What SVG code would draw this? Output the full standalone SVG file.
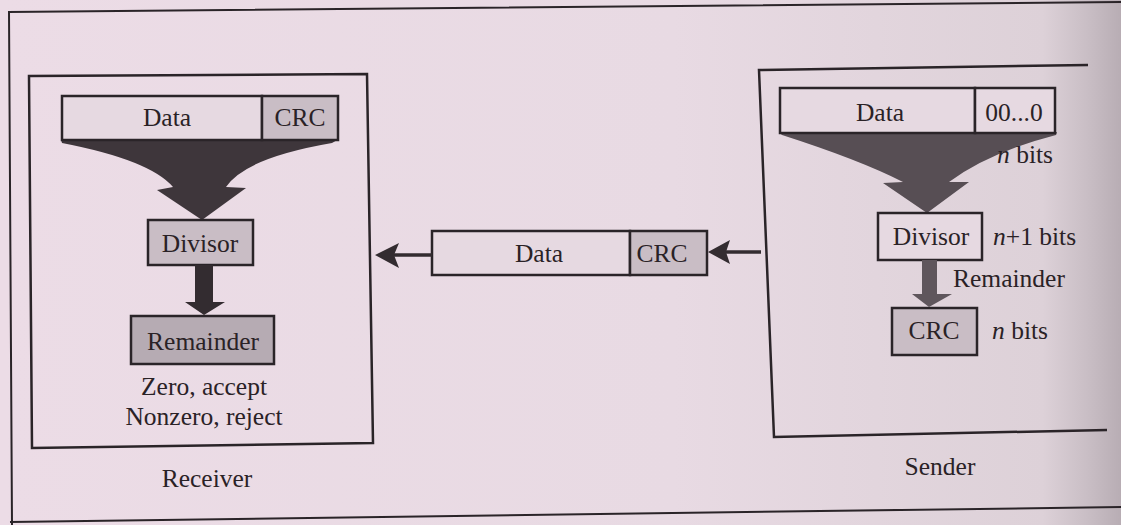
<svg xmlns="http://www.w3.org/2000/svg" width="1121" height="525" viewBox="0 0 1121 525">
<defs>
<linearGradient id="bg" x1="0" y1="0" x2="1" y2="0">
<stop offset="0" stop-color="#ecdce6"/>
<stop offset="0.6" stop-color="#e8dae3"/>
<stop offset="0.93" stop-color="#ddd1d8"/>
<stop offset="0.97" stop-color="#c9bec5"/>
<stop offset="1" stop-color="#b8adb4"/>
</linearGradient>
<style>
text{font-family:"Liberation Serif","Times New Roman",serif;font-size:25.5px;fill:#2a2226}
.c{text-anchor:middle}
.frame{fill:none;stroke:#2a2428;stroke-width:2.5}
.box{stroke:#2a2428;stroke-width:2.5}
.light{fill:#e6d9e1}
.gray{fill:#c9bdc5}
.dark{fill:#b6abb3}
.conn{stroke:#332c30;stroke-width:3.5;fill:none}
</style>
</defs>
<rect width="1121" height="525" fill="url(#bg)"/>
<path d="M8 12 L1121 2 M9 12 L12 525 M10 522 L1121 507" fill="none" stroke="#2a2428" stroke-width="2"/>

<g id="receiver">
<path class="frame" d="M29 76 L367 74 L373 443 L32 448 Z"/>
<text class="c" x="207" y="487">Receiver</text>
</g>

<g id="receiver-codeword">
<path d="M61 139 L339 139 L332 143 Q245 158 226 187 L246 188 L202 220 L157 190 L173 187 Q150 160 62 143 Z" fill="#3e363b"/>
<rect class="box light" x="62" y="96" width="200" height="44"/>
<rect class="box gray" x="262" y="96" width="76" height="44"/>
<text class="c" x="167" y="126">Data</text>
<text class="c" x="300" y="126">CRC</text>
</g>

<g id="receiver-divisor">
<rect class="box gray" x="148" y="220" width="105" height="45"/>
<text class="c" x="200" y="252">Divisor</text>
</g>

<g id="receiver-remainder">
<rect class="box dark" x="131" y="316" width="143" height="48"/>
<text class="c" x="203" y="350">Remainder</text>
<text class="c" x="204" y="395">Zero, accept</text>
<text class="c" x="204" y="425">Nonzero, reject</text>
</g>

<g id="transmitted">
<rect class="box light" x="432" y="231" width="198" height="44"/>
<rect class="box gray" x="630" y="231" width="77" height="44"/>
<text class="c" x="539" y="262">Data</text>
<text class="c" x="662" y="262">CRC</text>
</g>

<g id="sender">
<path class="frame" d="M1088 65 L759 70 L774 437 L1107 430"/>
<text class="c" x="940" y="475">Sender</text>
</g>

<g id="sender-codeword">
<path d="M779 132 L1057 132 L1056 135 Q990 152 949 182 L969 182 L927 213 L883 183 L903 182 Q860 160 782 135 Z" fill="#574e54"/>
<rect class="box light" x="780" y="88" width="195" height="45"/>
<rect class="box light" x="975" y="88" width="80" height="45"/>
<text class="c" x="880" y="121">Data</text>
<text class="c" x="1014" y="121">00...0</text>
<text x="997" y="163"><tspan font-style="italic">n</tspan> bits</text>
</g>

<g id="sender-divisor">
<rect class="box light" x="878" y="213" width="104" height="47"/>
<text class="c" x="931" y="245">Divisor</text>
<text x="993" y="245"><tspan font-style="italic">n</tspan>+1 bits</text>
</g>

<g id="sender-crc">
<rect class="box gray" x="892" y="308" width="85" height="47"/>
<text class="c" x="934" y="339">CRC</text>
<text x="992" y="339"><tspan font-style="italic">n</tspan> bits</text>
</g>

<g id="connectors">
<path d="M195 265 L213 265 L213 302 L225 302 L204 315 L185 302 L195 302 Z" fill="#332c30"/>
<path d="M922 260 L937 260 L937 294 L952 294 L929 307 L912 294 L922 294 Z" fill="#5f565c"/>
<text x="953" y="287">Remainder</text>
<line class="conn" x1="432" y1="255" x2="394" y2="255"/>
<path d="M375 255 L399 243 L394 255 L399 268 Z" fill="#332c30"/>
<line class="conn" x1="761" y1="252" x2="726" y2="252"/>
<path d="M708 252 L730 240 L726 252 L730 264 Z" fill="#332c30"/>
</g>
</svg>
